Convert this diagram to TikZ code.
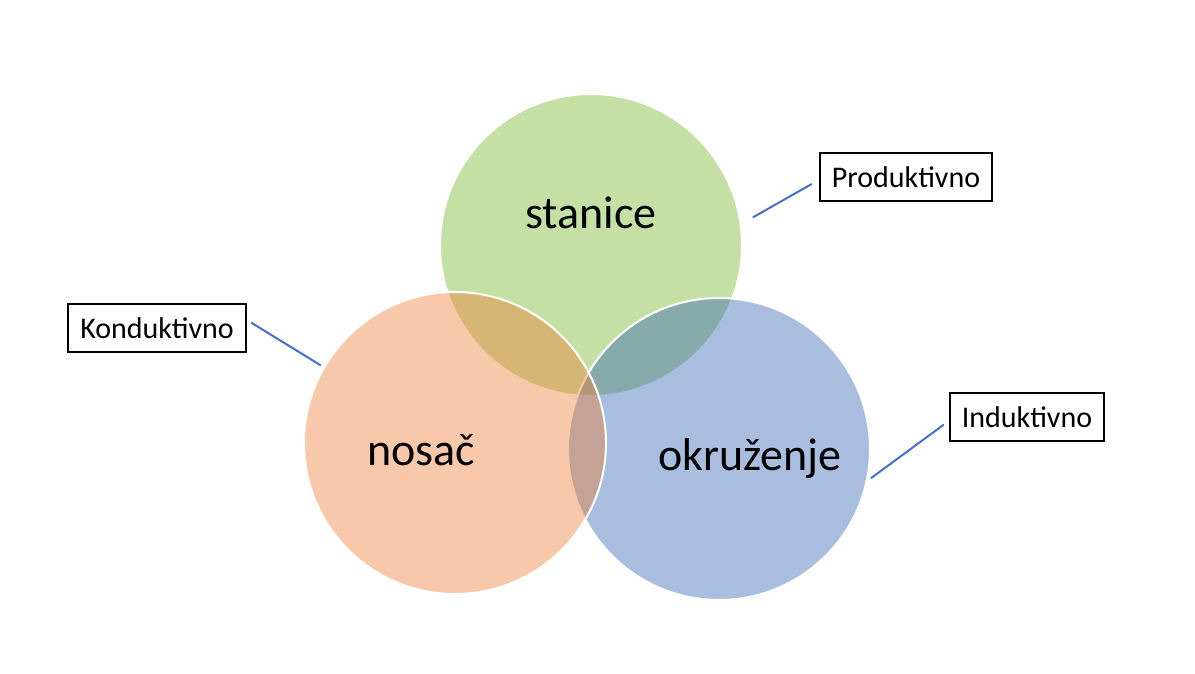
\documentclass[tikz,border=0pt]{standalone}
\usepackage{fontspec}
\setmainfont{Carlito}
\usetikzlibrary{positioning}
\definecolor{zelena}{HTML}{75B528}
\definecolor{narancasta}{HTML}{ED7D31}
\definecolor{plava}{HTML}{3264B3}
\definecolor{linija}{HTML}{4472C4}
\tikzset{
	krug/.style={circle, minimum size=302pt, inner sep=0pt, draw=white, line width=2pt, fill opacity=0.42}, % the three circles
	naslov/.style={font=\fontsize{46}{54}\selectfont}, % words inside the circles
	oznaka/.style={draw=black, line width=2.4pt, fill=white, minimum height=48pt, inner xsep=12pt, font=\fontsize{30}{36}\selectfont}, % the framed labels
	veza/.style={draw=linija, line width=2pt}, % the thin connectors
}

\begin{document}
\begin{tikzpicture}[x=1pt, y=-1pt]
			\useasboundingbox (0,0) rectangle (1195,674);
			\node[krug, fill=zelena] (stan) at (591,245) {};
			\node[krug, fill=plava] (okr) at (719,449) {};
			\node[krug, fill=narancasta] (nos) at (455,443) {};

			\node[naslov] (t1) at (591,213) {stanice};
			\node[naslov] (t2) at (421,450) {nosač};
			\node[naslov] (t3) at (750,458) {okruženje};

			\node[oznaka] (prod) at (906,177) {Produktivno};
			\node[oznaka] (kond) at (157,328) {Konduktivno};
			\node[oznaka] (ind) at (1027,417) {Induktivno};

			\draw[veza, shorten <=8pt, shorten >=13pt] ([yshift=-3pt]prod.west) -- (stan.8);
			\draw[veza, shorten <=5pt, shorten >=3pt] ([yshift=8pt]kond.east) -- (nos.150);
			\draw[veza, shorten <=6pt, shorten >=4pt] ([yshift=-4pt]ind.west) -- (okr.-12);
		\end{tikzpicture}
\end{document}
